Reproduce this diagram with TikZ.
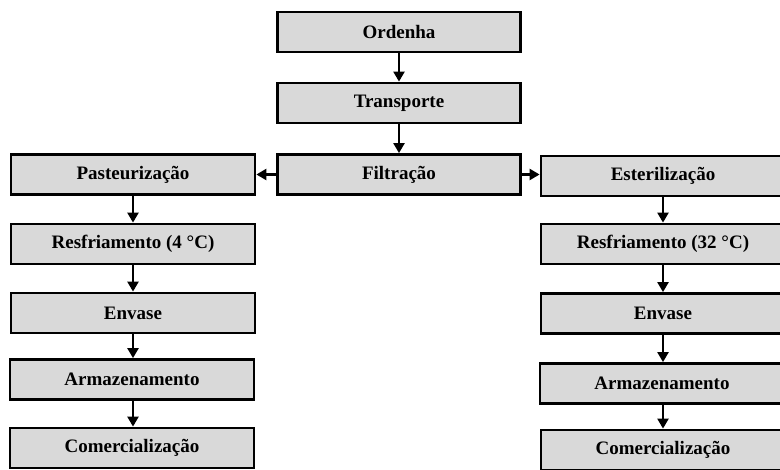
\documentclass[tikz,border=0pt]{standalone}
\usepackage{fontspec}
\setmainfont{Liberation Serif}
\usetikzlibrary{arrows.meta}
\definecolor{boxfill}{RGB}{217,217,217}
\tikzset{
  stepbox/.style={draw=black, line width=2.8pt, fill=boxfill, minimum width=243pt, minimum height=40pt, inner sep=0pt, font=\fontsize{19}{22}\selectfont\bfseries},
  flow/.style={line width=2.3pt, -{Triangle[width=11pt,length=10pt]}}
}
\begin{document}
\begin{tikzpicture}[x=1pt,y=-1pt]
\useasboundingbox (0,0) rectangle (780,470);
\clip (0,0) rectangle (780,470);
% center column
\node[stepbox] (ord) at (399,32) {Ordenha};
\node[stepbox] (tra) at (399,103) {Transporte};
\node[stepbox] (fil) at (399,174.5) {Filtração};
% left column
\node[stepbox, minimum width=244pt] (pas) at (133,174.5) {Pasteurização};
\node[stepbox, minimum width=244pt] (res1) at (133,244) {Resfriamento (4 °C)};
\node[stepbox, minimum width=244pt] (env1) at (133,313) {Envase};
\node[stepbox, minimum width=244pt] (arm1) at (132,379.5) {Armazenamento};
\node[stepbox, minimum width=244pt] (com1) at (132,448) {Comercialização};
% right column
\node[stepbox, minimum width=244pt] (est) at (663,176) {Esterilização};
\node[stepbox, minimum width=244pt] (res2) at (663,244) {Resfriamento (32 °C)};
\node[stepbox, minimum width=244pt] (env2) at (663,313.5) {Envase};
\node[stepbox, minimum width=244pt] (arm2) at (662,383.5) {Armazenamento};
\node[stepbox, minimum width=244pt] (com2) at (663,450) {Comercialização};
% arrows
\draw[flow] (ord) -- (tra);
\draw[flow] (tra) -- (fil);
\draw[flow] (fil.west) -- (pas.east);
\draw[flow] (fil.east) -- (fil.east -| est.west);
\draw[flow] (pas.south) -- (pas.south |- res1.north);
\draw[flow] (res1.south) -- (res1.south |- env1.north);
\draw[flow] (env1.south) -- (env1.south |- arm1.north);
\draw[flow] (arm1.south -| env1.south) -- (env1.south |- com1.north);
\draw[flow] (est.south) -- (est.south |- res2.north);
\draw[flow] (res2.south) -- (res2.south |- env2.north);
\draw[flow] (env2.south) -- (env2.south |- arm2.north);
\draw[flow] (arm2.south -| env2.south) -- (env2.south |- com2.north);
\end{tikzpicture}
\end{document}
